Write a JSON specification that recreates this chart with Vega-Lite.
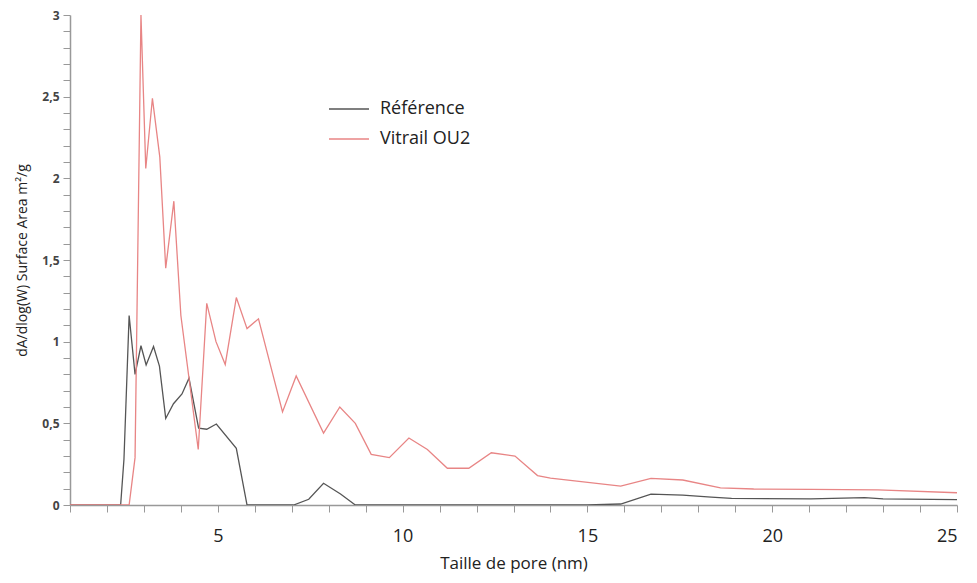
{
  "$schema": "https://vega.github.io/schema/vega-lite/v6.json",
  "width": 887,
  "height": 490,
  "autosize": "none",
  "padding": {"left": 70, "top": 15, "right": 20, "bottom": 78},
  "background": "white",
  "config": {
    "view": {"stroke": null},
    "font": "Open Sans"
  },
  "data": {
    "values": [
      {"serie": "Référence", "x": 1.0, "y": 0},
      {"serie": "Référence", "x": 2.37, "y": 0},
      {"serie": "Référence", "x": 2.46, "y": 0.28},
      {"serie": "Référence", "x": 2.6, "y": 1.16},
      {"serie": "Référence", "x": 2.76, "y": 0.8},
      {"serie": "Référence", "x": 2.92, "y": 0.975},
      {"serie": "Référence", "x": 3.06, "y": 0.857},
      {"serie": "Référence", "x": 3.26, "y": 0.97},
      {"serie": "Référence", "x": 3.42, "y": 0.85},
      {"serie": "Référence", "x": 3.59, "y": 0.53},
      {"serie": "Référence", "x": 3.8, "y": 0.62},
      {"serie": "Référence", "x": 4.03, "y": 0.68},
      {"serie": "Référence", "x": 4.22, "y": 0.776},
      {"serie": "Référence", "x": 4.48, "y": 0.47},
      {"serie": "Référence", "x": 4.7, "y": 0.464},
      {"serie": "Référence", "x": 4.96, "y": 0.496},
      {"serie": "Référence", "x": 5.5, "y": 0.347},
      {"serie": "Référence", "x": 5.79, "y": 0},
      {"serie": "Référence", "x": 7.05, "y": 0},
      {"serie": "Référence", "x": 7.46, "y": 0.035},
      {"serie": "Référence", "x": 7.86, "y": 0.133},
      {"serie": "Référence", "x": 8.32, "y": 0.067},
      {"serie": "Référence", "x": 8.72, "y": 0},
      {"serie": "Référence", "x": 15.0, "y": 0},
      {"serie": "Référence", "x": 15.9, "y": 0.006},
      {"serie": "Référence", "x": 16.72, "y": 0.067},
      {"serie": "Référence", "x": 17.58, "y": 0.061},
      {"serie": "Référence", "x": 18.35, "y": 0.048},
      {"serie": "Référence", "x": 18.9, "y": 0.041},
      {"serie": "Référence", "x": 21.05, "y": 0.037},
      {"serie": "Référence", "x": 22.5, "y": 0.045},
      {"serie": "Référence", "x": 23.0, "y": 0.037},
      {"serie": "Référence", "x": 25.0, "y": 0.033},
      {"serie": "Vitrail OU2", "x": 1.0, "y": 0},
      {"serie": "Vitrail OU2", "x": 2.6, "y": 0},
      {"serie": "Vitrail OU2", "x": 2.76, "y": 0.29},
      {"serie": "Vitrail OU2", "x": 2.92, "y": 3.0},
      {"serie": "Vitrail OU2", "x": 3.05, "y": 2.06},
      {"serie": "Vitrail OU2", "x": 3.23, "y": 2.49},
      {"serie": "Vitrail OU2", "x": 3.43, "y": 2.13},
      {"serie": "Vitrail OU2", "x": 3.59, "y": 1.45},
      {"serie": "Vitrail OU2", "x": 3.81, "y": 1.86},
      {"serie": "Vitrail OU2", "x": 4.0, "y": 1.16},
      {"serie": "Vitrail OU2", "x": 4.47, "y": 0.34},
      {"serie": "Vitrail OU2", "x": 4.7, "y": 1.235},
      {"serie": "Vitrail OU2", "x": 4.95, "y": 1.0},
      {"serie": "Vitrail OU2", "x": 5.2, "y": 0.86},
      {"serie": "Vitrail OU2", "x": 5.5, "y": 1.27},
      {"serie": "Vitrail OU2", "x": 5.79, "y": 1.08},
      {"serie": "Vitrail OU2", "x": 6.1, "y": 1.14},
      {"serie": "Vitrail OU2", "x": 6.75, "y": 0.57},
      {"serie": "Vitrail OU2", "x": 7.12, "y": 0.79},
      {"serie": "Vitrail OU2", "x": 7.86, "y": 0.44},
      {"serie": "Vitrail OU2", "x": 8.3, "y": 0.6},
      {"serie": "Vitrail OU2", "x": 8.72, "y": 0.5},
      {"serie": "Vitrail OU2", "x": 9.15, "y": 0.31},
      {"serie": "Vitrail OU2", "x": 9.64, "y": 0.29},
      {"serie": "Vitrail OU2", "x": 10.17, "y": 0.41},
      {"serie": "Vitrail OU2", "x": 10.67, "y": 0.34},
      {"serie": "Vitrail OU2", "x": 11.21, "y": 0.225},
      {"serie": "Vitrail OU2", "x": 11.79, "y": 0.225},
      {"serie": "Vitrail OU2", "x": 12.4, "y": 0.32},
      {"serie": "Vitrail OU2", "x": 13.04, "y": 0.3},
      {"serie": "Vitrail OU2", "x": 13.65, "y": 0.18},
      {"serie": "Vitrail OU2", "x": 14.0, "y": 0.165},
      {"serie": "Vitrail OU2", "x": 15.9, "y": 0.116},
      {"serie": "Vitrail OU2", "x": 16.72, "y": 0.163},
      {"serie": "Vitrail OU2", "x": 17.58, "y": 0.153},
      {"serie": "Vitrail OU2", "x": 18.6, "y": 0.105},
      {"serie": "Vitrail OU2", "x": 19.5, "y": 0.098},
      {"serie": "Vitrail OU2", "x": 21.05, "y": 0.096},
      {"serie": "Vitrail OU2", "x": 22.86, "y": 0.092},
      {"serie": "Vitrail OU2", "x": 25.0, "y": 0.075}
    ]
  },
  "mark": {"type": "line", "strokeWidth": 1.3, "clip": true},
  "encoding": {
    "x": {
      "field": "x",
      "type": "quantitative",
      "scale": {"domain": [1, 25], "nice": false, "zero": false},
      "axis": {
        "title": "Taille de pore (nm)",
        "titleFontSize": 17,
        "titleFontWeight": "normal",
        "titleColor": "#222",
        "titlePadding": 10,
        "values": [1,2,3,4,5,6,7,8,9,10,11,12,13,14,15,16,17,18,19,20,21,22,23,24,25],
        "labelExpr": "datum.value % 5 == 0 ? datum.label : ''",
        "labelOverlap": false,
        "labelBound": false,
        "labelFontSize": 18,
        "labelColor": "#222",
        "labelPadding": 15,
        "tickSize": 7,
        "tickColor": "#999",
        "domainColor": "#999",
        "domainWidth": 1.5,
        "grid": false
      }
    },
    "y": {
      "field": "y",
      "type": "quantitative",
      "scale": {"domain": [0, 3], "nice": false},
      "axis": {
        "title": "dA/dlog(W) Surface Area m²/g",
        "titleFontSize": 14,
        "titleFontWeight": "normal",
        "titleColor": "#222",
        "titlePadding": 12,
        "format": "~g",
        "values": [0,0.1,0.2,0.3,0.4,0.5,0.6,0.7,0.8,0.9,1,1.1,1.2,1.3,1.4,1.5,1.6,1.7,1.8,1.9,2,2.1,2.2,2.3,2.4,2.5,2.6,2.7,2.8,2.9,3],
        "labelExpr": "round(datum.value*10) % 5 == 0 ? replace(datum.label, '.', ',') : ''",
        "labelOverlap": false,
        "labelBound": false,
        "labelFontSize": 12,
        "labelFontWeight": "bold",
        "labelColor": "#444",
        "labelPadding": 4,
        "tickSize": 7,
        "tickColor": "#999",
        "domainColor": "#999",
        "domainWidth": 1.5,
        "grid": false
      }
    },
    "color": {
      "field": "serie",
      "type": "nominal",
      "scale": {"domain": ["Référence", "Vitrail OU2"], "range": ["#555555", "#e88585"]},
      "legend": {
        "title": null,
        "orient": "none",
        "legendX": 258,
        "legendY": 73,
        "symbolType": "M-1,0H1",
        "symbolSize": 1600,
        "symbolStrokeWidth": 1.5,
        "labelFontSize": 18,
        "labelColor": "#222",
        "labelOffset": 10,
        "rowPadding": -7
      }
    }
  }
}
